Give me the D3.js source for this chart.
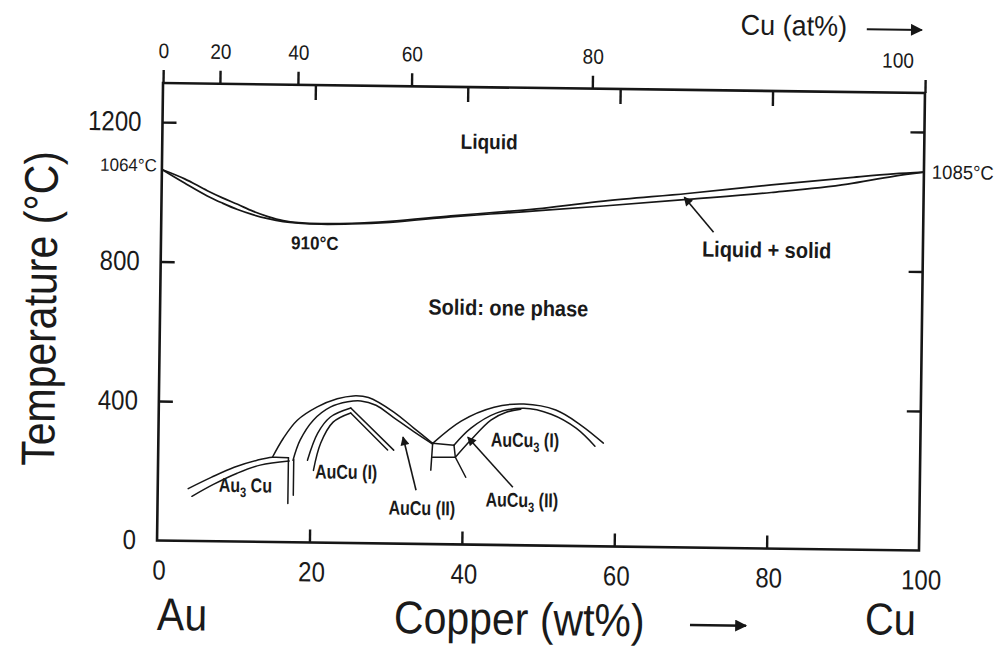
<!DOCTYPE html>
<html>
<head>
<meta charset="utf-8">
<script src="https://cdn.jsdelivr.net/npm/d3@7"></script>
<style>
  html, body { margin: 0; padding: 0; background: #fff; }
  svg { display: block; font-family: "Liberation Sans", Arial, Helvetica, sans-serif; }
  text { fill: #1a1a1a; }
</style>
</head>
<body>
<svg id="chart" width="998" height="646"></svg>
<script>
// ---------------- data (wt% Cu, temperature °C) ----------------
const wtTicks = [0, 20, 40, 60, 80, 100];
const atTicks = [0, 20, 40, 60, 80, 100];
const tempTicks = [0, 400, 800, 1200];

const liquidus = [[0,1064],[3,1038],[6,1005],[8,985],[10,967],[12,948],[14,933],[16,922],[18,917],[21,915],[25,917],[30,924],[38,942],[45,956],[50,967],[58,990],[69,1015],[80,1043],[90,1066],[96,1079],[100,1085]];
const solidus  = [[0,1064],[3,1026],[6,990],[8,970],[10,952],[12,938],[14,927],[16,919],[18,915],[21,913],[25,915],[30,921],[38,939],[45,952],[50,961],[58,976],[69,998],[80,1021],[90,1048],[96,1072],[100,1085]];

const au3cuUpper = [[4,150],[7,183],[10,213],[13,234],[15,243],[17.1,242]];
const au3cuLower = [[4.5,128],[7.3,163],[10.4,196],[13.4,220],[17.2,233]];
const au3cuWallA = [[17.1,242],[17.1,111]];
const au3cuWallB = [[17.8,238],[17.8,135]];

const auCuOuter1 = [[15,243],[16.4,298],[18.2,350],[20.8,389],[23.4,413],[25.5,422],[27.5,418],[30.8,378],[33.5,332],[36,289]];
const auCuOuter2 = [[17.7,235],[18.6,293],[20.3,351],[22.5,389],[24.8,405],[26.5,408],[28.5,396],[30.8,362],[33.5,322],[36,287]];
const auCuInner1 = [[19.6,236],[20.9,314],[22.5,360],[25.2,387],[30.9,268]];
const auCuInner2 = [[20.4,207],[21.3,285],[22.9,346],[25.2,373],[30.1,268]];

const boxLeft   = [[36.0,289],[35.8,212]];
const boxTop    = [[36.0,289],[38.8,284.5]];
const boxBottom = [[36.0,249],[39.0,250]];
const boxRight  = [[38.8,284.5],[39.0,250],[40.4,193]];

const auCu3Outer = [[36,289],[39.7,354],[44.0,395],[47.9,405],[52.1,389],[55.4,347],[58.4,296]];
const auCu3Inner = [[38.8,284.5],[41.0,334],[44.3,378],[47.9,393],[51.5,377],[54.8,338],[57.3,287]];
const auCu3Left  = [[39.0,250],[41.0,300],[43.6,358],[45.6,381],[47.5,390]];

// annotation arrows: [tail, head]
const arrowLiquidSolid = [[72.5,905],[68.6,1004]];
const arrowAuCuII      = [[33.9,154],[32.1,306]];
const arrowAuCu3II     = [[46.6,166],[40.6,308]];

// ---------------- layout ----------------
const svg = d3.select("#chart");
svg.append("rect").attr("width",998).attr("height",646).attr("fill","#fff");

const X0 = 160, X1 = 922, YB = 545.5, YT = 88;
const x = d3.scaleLinear().domain([0,100]).range([X0,X1]);
const y = d3.scaleLinear().domain([0,1312]).range([YB,YT]);

// atomic % -> weight % (Cu 63.546, Au 196.967)
const atToWt = a => 100 * a * 63.546 / (a * 63.546 + (100 - a) * 196.967);
const xAt = d3.scaleLinear().domain(atTicks).range(atTicks.map(a => x(atToWt(a))));

// the scanned figure is slightly rotated clockwise
const g = svg.append("g").attr("transform","rotate(0.75,540,317)");

const ink = "#161616";
const line = d3.line().x(d => x(d[0])).y(d => y(d[1]));
const smooth = d3.line().x(d => x(d[0])).y(d => y(d[1])).curve(d3.curveCatmullRom.alpha(0.5));
const mono = d3.line().x(d => x(d[0])).y(d => y(d[1])).curve(d3.curveMonotoneX);

function label(sel, px, py, str, o) {
  const t = sel.append("text")
    .attr("transform", `translate(${px},${py}) scale(${o.sx||1},${o.sy||1})`)
    .attr("text-anchor", o.anchor || "middle")
    .style("font-size", o.size + "px")
    .style("font-weight", o.weight || "normal");
  if (str !== null) t.text(str);
  return t;
}

// ---------------- frame & axes ----------------
g.append("rect").attr("x",X0).attr("y",YT).attr("width",X1-X0).attr("height",YB-YT)
  .attr("fill","none").attr("stroke",ink).attr("stroke-width",2.6);

function styleAxis(sel) {
  sel.select(".domain").remove();
  sel.selectAll(".tick line").attr("stroke",ink).attr("stroke-width",2.4);
  sel.selectAll("text").attr("fill","#1a1a1a").style("font-family","inherit");
}

// left axis
const gl = g.append("g").attr("transform",`translate(${X0},0)`)
  .call(d3.axisLeft(y).tickValues(tempTicks).tickSize(-14).tickPadding(0).tickFormat(d3.format("d")));
styleAxis(gl);
gl.selectAll(".tick").filter(d => d === 0).select("line").remove();
gl.selectAll("text").attr("x",0).attr("dy",null).attr("y",0)
  .attr("transform","translate(-21,8.5) scale(1,1.15)").attr("text-anchor","end").style("font-size","24px");

// right axis
const gr = g.append("g").attr("transform",`translate(${X1},0)`)
  .call(d3.axisRight(y).tickValues([400,800,1200]).tickSize(-14).tickFormat(""));
styleAxis(gr);

// bottom axis
const gb = g.append("g").attr("transform",`translate(0,${YB})`)
  .call(d3.axisBottom(x).tickValues(wtTicks).tickSize(-13).tickFormat(d3.format("d")));
styleAxis(gb);
gb.selectAll(".tick").filter(d => d === 0 || d === 100).select("line").remove();
gb.selectAll("text").attr("y",0).attr("dy",null)
  .attr("transform","translate(2,39) scale(1,1.15)").style("font-size","24px");

// top axis, weight % ticks pointing inward
const gtw = g.append("g").attr("transform",`translate(0,${YT})`)
  .call(d3.axisTop(x).tickValues([20,40,60,80]).tickSize(-15).tickFormat(""));
styleAxis(gtw);

// top axis, atomic % ticks pointing outward with labels
const gta = g.append("g").attr("transform",`translate(0,${YT})`)
  .call(d3.axisTop(xAt).tickValues(atTicks).tickSize(13).tickFormat(d3.format("d")));
styleAxis(gta);
gta.selectAll("text").attr("y",0).attr("dy",null)
  .attr("transform","translate(0,-25) scale(1,1.1)").style("font-size","19px");
gta.selectAll(".tick").filter(d => d === 100).select("text")
  .attr("text-anchor","end").attr("transform","translate(-12,-25) scale(1,1.1)");

// ---------------- phase boundaries ----------------
const curves = g.append("g").attr("fill","none").attr("stroke",ink)
  .attr("stroke-width",1.7).attr("stroke-linejoin","round").attr("stroke-linecap","round");
curves.append("path").attr("d", mono(liquidus));
curves.append("path").attr("d", mono(solidus));

[au3cuUpper, au3cuLower, auCuOuter1, auCuOuter2, auCu3Outer, auCu3Inner, auCu3Left]
  .forEach(d => curves.append("path").attr("d", smooth(d)).attr("stroke-width",1.5));
[auCuInner1, auCuInner2].forEach(d => {
  curves.append("path").attr("d", smooth(d.slice(0,4))).attr("stroke-width",1.5);
  curves.append("path").attr("d", line(d.slice(3))).attr("stroke-width",1.5);
});
[au3cuWallA, au3cuWallB, boxLeft, boxTop, boxBottom, boxRight]
  .forEach(d => curves.append("path").attr("d", line(d)).attr("stroke-width",1.5));

// ---------------- arrows ----------------
const defs = svg.append("defs");
function marker(id, w, h) {
  defs.append("marker").attr("id",id).attr("viewBox","0 0 10 10").attr("refX",9).attr("refY",5)
    .attr("markerWidth",w).attr("markerHeight",h).attr("markerUnits","userSpaceOnUse")
    .attr("orient","auto").append("path").attr("d","M0,0 L10,5 L0,10 z").attr("fill",ink);
}
marker("headS", 12, 9);
marker("headL", 17, 12);

[arrowLiquidSolid, arrowAuCuII, arrowAuCu3II].forEach(a => {
  g.append("path").attr("d", line(a)).attr("fill","none").attr("stroke",ink)
    .attr("stroke-width",1.6).attr("marker-end","url(#headS)");
});

// ---------------- text annotations ----------------
label(g, x(42.9), y(1155) + 7, "Liquid", {size:19, weight:"bold", sy:1.1});
label(g, x(20.2), y(859) + 6.5, "910°C", {size:17, weight:"bold", sy:1.1});
label(g, x(79.5), y(856) + 7.5, "Liquid + solid", {size:20, weight:"bold", sy:1.1});
label(g, x(45.7), y(680) + 7.5, "Solid: one phase", {size:20, weight:"bold", sy:1.1});

label(g, X0 - 5, y(1064) + 2, "1064°C", {size:17, anchor:"end", sy:1.05});
label(g, X1 + 8, y(1085) + 6.5, "1085°C", {size:18.5, anchor:"start", sy:1.05});

const ordOpt = {size:16, weight:"bold", sy:1.25};
const t1 = label(g, x(11.5), y(162) + 7, null, ordOpt);
t1.append("tspan").text("Au");
t1.append("tspan").attr("dy",4).style("font-size","11px").text("3");
t1.append("tspan").attr("dy",-4).text(" Cu");

label(g, x(24.7), y(204) + 7, "AuCu (I)", ordOpt);
label(g, x(34.7), y(103) + 7, "AuCu (II)", ordOpt);

const t4 = label(g, x(47.8), y(130) + 7, null, ordOpt);
t4.append("tspan").text("AuCu");
t4.append("tspan").attr("dy",4).style("font-size","11px").text("3");
t4.append("tspan").attr("dy",-4).text(" (II)");

const t5 = label(g, x(48.1), y(302) + 7, null, ordOpt);
t5.append("tspan").text("AuCu");
t5.append("tspan").attr("dy",4).style("font-size","11px").text("3");
t5.append("tspan").attr("dy",-4).text(" (I)");

// ---------------- axis titles ----------------
g.append("text")
  .attr("transform","translate(56,315) rotate(-90) scale(1,1.15)")
  .attr("text-anchor","middle").style("font-size","41px").text("Temperature (°C)");

label(g, 161, 635, "Au", {size:41, anchor:"start", sy:1.12});
label(g, 398, 635, "Copper (wt%)", {size:41, anchor:"start", sy:1.12});
label(g, 920, 630, "Cu", {size:40, anchor:"end", sy:1.12});
g.append("line").attr("x1",694).attr("y1",623).attr("x2",750).attr("y2",623)
  .attr("stroke",ink).attr("stroke-width",2.6).attr("marker-end","url(#headL)");

label(g, 790, 32, "Cu (at%)", {size:27, sy:1.05});
g.append("line").attr("x1",863).attr("y1",25).attr("x2",918).attr("y2",25)
  .attr("stroke",ink).attr("stroke-width",2).attr("marker-end","url(#headL)");
</script>
</body>
</html>
